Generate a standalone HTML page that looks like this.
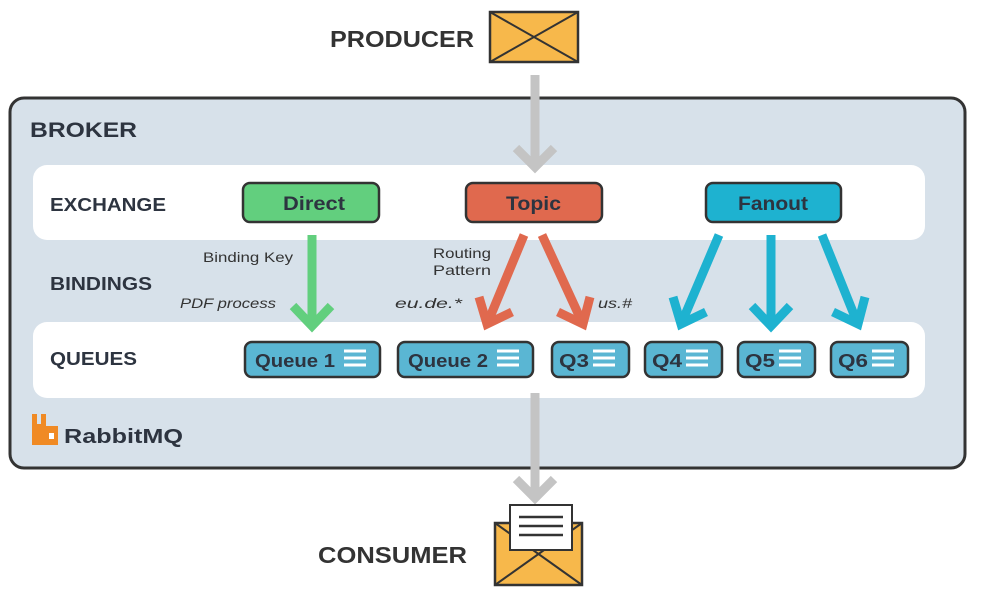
<!DOCTYPE html>
<html><head><meta charset="utf-8"><style>
html,body{margin:0;padding:0;background:#fff;}
svg{display:block;font-family:"Liberation Sans",sans-serif;}
.h{font-weight:bold;fill:#333;}
.b{font-weight:bold;fill:#2d3440;}
</style></head><body>
<svg width="984" height="614" viewBox="0 0 984 614" xmlns="http://www.w3.org/2000/svg">
<!-- producer -->
<text x="330" y="47" font-size="23" class="h" textLength="144" lengthAdjust="spacingAndGlyphs">PRODUCER</text>
<rect x="490" y="12" width="88" height="50" fill="#f7b84b" stroke="#333" stroke-width="2.5"/>
<path d="M490,12 L578,62 M578,12 L490,62" stroke="#333" stroke-width="2"/>
<!-- broker -->
<rect x="10" y="98" width="955" height="370" rx="14" fill="#d7e1ea" stroke="#333" stroke-width="3"/>
<text x="30" y="137" font-size="21" class="b" textLength="107" lengthAdjust="spacingAndGlyphs">BROKER</text>
<rect x="33" y="165" width="892" height="75" rx="14" fill="#fff"/>
<rect x="33" y="322" width="892" height="76" rx="14" fill="#fff"/>
<!-- gray arrows -->
<g stroke="#c4c4c4" stroke-width="9" fill="none" stroke-linejoin="miter">
<line x1="535" y1="75" x2="535" y2="166"/>
<path d="M516,148 L535,167 L554,148"/>
<line x1="535" y1="393" x2="535" y2="497"/>
<path d="M516,479 L535,498 L554,479"/>
</g>
<text x="50" y="211" font-size="18" class="b" textLength="116" lengthAdjust="spacingAndGlyphs">EXCHANGE</text>
<text x="50" y="290" font-size="18" class="b" textLength="102" lengthAdjust="spacingAndGlyphs">BINDINGS</text>
<text x="50" y="365" font-size="18" class="b" textLength="87" lengthAdjust="spacingAndGlyphs">QUEUES</text>
<!-- exchanges -->
<rect x="243" y="183" width="136" height="39" rx="7" fill="#62cf7e" stroke="#333" stroke-width="2.5"/>
<text x="283" y="210" font-size="19" class="b" textLength="62" lengthAdjust="spacingAndGlyphs">Direct</text>
<rect x="466" y="183" width="136" height="39" rx="7" fill="#e0694e" stroke="#333" stroke-width="2.5"/>
<text x="506" y="210" font-size="19" class="b" textLength="55" lengthAdjust="spacingAndGlyphs">Topic</text>
<rect x="706" y="183" width="135" height="39" rx="7" fill="#1eb2d0" stroke="#333" stroke-width="2.5"/>
<text x="738" y="210" font-size="19" class="b" textLength="70" lengthAdjust="spacingAndGlyphs">Fanout</text>
<!-- binding arrows -->
<g fill="none" stroke-width="9" stroke-linejoin="miter">
<g stroke="#62cf7e"><line x1="312" y1="235" x2="312" y2="326"/><path d="M293,306 L312,326 L331,306"/></g>
<g stroke="#e0694e">
<line x1="524" y1="235" x2="488" y2="322"/><path d="M479,297 L487,324 L512,312"/>
<line x1="542" y1="235" x2="582" y2="322"/><path d="M558,312 L583,324 L590,297"/>
</g>
<g stroke="#1eb2d0">
<line x1="719" y1="235" x2="682" y2="322"/><path d="M673,297 L681,324 L706,312"/>
<line x1="771" y1="235" x2="771" y2="326"/><path d="M752,306 L771,326 L790,306"/>
<line x1="822" y1="235" x2="857" y2="322"/><path d="M833,312 L858,324 L865,297"/>
</g>
</g>
<g font-size="14" fill="#333">
<text x="203" y="262" textLength="90" lengthAdjust="spacingAndGlyphs">Binding Key</text>
<text x="180" y="308" font-style="italic" textLength="96" lengthAdjust="spacingAndGlyphs">PDF process</text>
<text x="433" y="258" textLength="58" lengthAdjust="spacingAndGlyphs">Routing</text>
<text x="433" y="275" textLength="58" lengthAdjust="spacingAndGlyphs">Pattern</text>
<text x="395" y="308" font-style="italic" textLength="67" lengthAdjust="spacingAndGlyphs">eu.de.*</text>
<text x="598" y="308" font-style="italic" textLength="34" lengthAdjust="spacingAndGlyphs">us.#</text>
</g>
<!-- queues -->
<g font-size="18">
<rect x="245" y="342" width="135" height="35" rx="7" fill="#5ab6d3" stroke="#333" stroke-width="2.5"/><text x="255" y="367" class="b" textLength="80" lengthAdjust="spacingAndGlyphs">Queue 1</text>
<rect x="398" y="342" width="135" height="35" rx="7" fill="#5ab6d3" stroke="#333" stroke-width="2.5"/><text x="408" y="367" class="b" textLength="80" lengthAdjust="spacingAndGlyphs">Queue 2</text>
<rect x="552" y="342" width="77" height="35" rx="7" fill="#5ab6d3" stroke="#333" stroke-width="2.5"/><text x="559" y="367" class="b" textLength="30" lengthAdjust="spacingAndGlyphs">Q3</text>
<rect x="645" y="342" width="77" height="35" rx="7" fill="#5ab6d3" stroke="#333" stroke-width="2.5"/><text x="652" y="367" class="b" textLength="30" lengthAdjust="spacingAndGlyphs">Q4</text>
<rect x="738" y="342" width="77" height="35" rx="7" fill="#5ab6d3" stroke="#333" stroke-width="2.5"/><text x="745" y="367" class="b" textLength="30" lengthAdjust="spacingAndGlyphs">Q5</text>
<rect x="831" y="342" width="77" height="35" rx="7" fill="#5ab6d3" stroke="#333" stroke-width="2.5"/><text x="838" y="367" class="b" textLength="30" lengthAdjust="spacingAndGlyphs">Q6</text>
</g>
<g stroke="#fff" stroke-width="3">
<path d="M344,351h22M344,358h22M344,365h22"/>
<path d="M497,351h22M497,358h22M497,365h22"/>
<path d="M593,351h22M593,358h22M593,365h22"/>
<path d="M686,351h22M686,358h22M686,365h22"/>
<path d="M779,351h22M779,358h22M779,365h22"/>
<path d="M872,351h22M872,358h22M872,365h22"/>
</g>
<!-- rabbitmq logo -->
<path d="M32,414 h5 v10 h4 v-10 h5 v12 h12 v19 h-26 z" fill="#f08a24"/>
<rect x="49" y="433" width="5" height="6" fill="#fff"/>
<text x="64" y="443" font-size="20" class="b" textLength="119" lengthAdjust="spacingAndGlyphs">RabbitMQ</text>
<!-- consumer -->
<text x="318" y="563" font-size="23" class="h" textLength="149" lengthAdjust="spacingAndGlyphs">CONSUMER</text>
<rect x="495" y="523" width="87" height="62" fill="#f7b84b" stroke="#333" stroke-width="2.5"/>
<path d="M495,523 L582,585 M582,523 L495,585" stroke="#333" stroke-width="2"/>
<rect x="510" y="505" width="62" height="45" fill="#fff" stroke="#333" stroke-width="2"/>
<path d="M519,517h44M519,526h44M519,535h44" stroke="#333" stroke-width="2.5"/>
</svg>
</body></html>
